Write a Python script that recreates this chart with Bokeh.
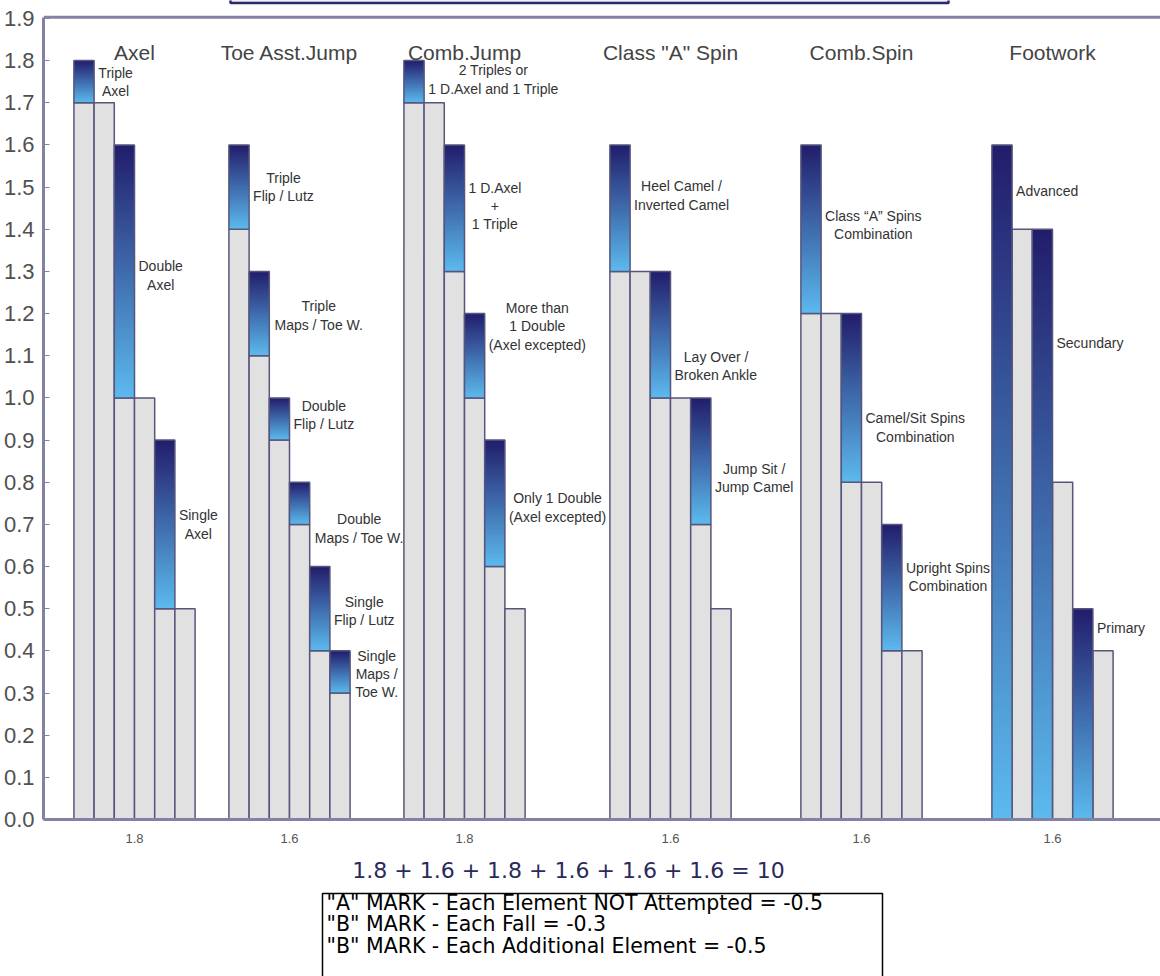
import numpy as np
from bokeh.plotting import figure
from bokeh.models import Range1d, FixedTicker, PrintfTickFormatter, Span
from bokeh.layouts import column
from bokeh.embed import file_html
from bokeh.resources import INLINE
from bokeh.core.properties import value

# ---------------- data ----------------
GROUPS = ["Axel", "Toe Asst.Jump", "Comb.Jump", 'Class "A" Spin', "Comb.Spin", "Footwork"]
GROUP_TOTALS = [1.8, 1.6, 1.8, 1.6, 1.6, 1.6]

# top of the grey (lower) part of every bar, six bars per group
AXEL_BASE = [1.7, 1.7, 1.0, 1.0, 0.5, 0.5]
TOE_BASE = [1.4, 1.1, 0.9, 0.7, 0.4, 0.3]
COMB_BASE = [1.7, 1.7, 1.3, 1.0, 0.6, 0.5]
CLASSA_BASE = [1.3, 1.3, 1.0, 1.0, 0.7, 0.5]
COMBSPIN_BASE = [1.2, 1.2, 0.8, 0.8, 0.4, 0.4]
FOOT_BASE = [0.0, 1.4, 0.0, 0.8, 0.0, 0.4]

# full height of every bar (blue part spans base..top)
AXEL_TOP = [1.8, 1.7, 1.6, 1.0, 0.9, 0.5]
TOE_TOP = [1.6, 1.3, 1.0, 0.8, 0.6, 0.4]
COMB_TOP = [1.8, 1.7, 1.6, 1.2, 0.9, 0.5]
CLASSA_TOP = [1.6, 1.3, 1.3, 1.0, 1.0, 0.5]
COMBSPIN_TOP = [1.6, 1.2, 1.2, 0.8, 0.7, 0.4]
FOOT_TOP = [1.6, 1.4, 1.4, 0.8, 0.5, 0.4]

AXEL_LABELS = ["Triple\nAxel", None, "Double\nAxel", None, "Single\nAxel", None]
TOE_LABELS = ["Triple\nFlip / Lutz", "Triple\nMaps / Toe W.", "Double\nFlip / Lutz",
              "Double\nMaps / Toe W.", "Single\nFlip / Lutz", "Single\nMaps /\nToe W."]
COMB_LABELS = ["2 Triples or\n1 D.Axel and 1 Triple", None, "1 D.Axel\n+\n1 Triple",
               "More than\n1 Double\n(Axel excepted)", "Only 1 Double\n(Axel excepted)", None]
CLASSA_LABELS = ["Heel Camel /\nInverted Camel", None, "Lay Over /\nBroken Ankle", None,
                 "Jump Sit /\nJump Camel", None]
COMBSPIN_LABELS = ["Class \u201cA\u201d Spins\nCombination", None, "Camel/Sit Spins\nCombination", None,
                   "Upright Spins\nCombination", None]
FOOT_LABELS = ["Advanced", None, "Secundary", None, "Primary", None]

NOTES = ['"A" MARK - Each Element NOT Attempted = -0.5',
         '"B" MARK - Each Fall = -0.3',
         '"B" MARK - Each Additional Element = -0.5']

BASES = [AXEL_BASE, TOE_BASE, COMB_BASE, CLASSA_BASE, COMBSPIN_BASE, FOOT_BASE]
TOPS = [AXEL_TOP, TOE_TOP, COMB_TOP, CLASSA_TOP, COMBSPIN_TOP, FOOT_TOP]
LABELS = [AXEL_LABELS, TOE_LABELS, COMB_LABELS, CLASSA_LABELS, COMBSPIN_LABELS, FOOT_LABELS]

# ---------------- layout (positions / styles) ----------------
GROUP_X = [134, 289, 464, 670, 861, 1052]   # group centres, pixel-like x units
BAR_W = 20.2
LABEL_Y = [
    [1.75, None, 1.29, None, 0.70, None],
    [1.50, 1.195, 0.96, 0.69, 0.495, 0.345],
    [1.755, None, 1.455, 1.17, 0.74, None],
    [1.48, None, 1.075, None, 0.81, None],
    [1.41, None, 0.93, None, 0.575, None],
    [1.49, None, 1.13, None, 0.455, None],
]
LABEL_GAP = 4
PX_PER_UNIT = 421.6
FRAME_PX = 819
Y_END = FRAME_PX / PX_PER_UNIT
TOP_BORDER = 1.903
TOP_COLOR = np.array([34, 29, 107])
BOTTOM_COLOR = np.array([92, 186, 238])
GREY = "#e1e1e1"
EDGE = "#56567c"
AXIS = "#8282a4"

ARIAL = {' ': 278, '(': 333, ')': 333, '+': 584, '.': 278, '/': 278, '"': 355,
         '\u201c': 333, '\u201d': 333, 'A': 667, 'B': 667, 'C': 722, 'D': 722, 'E': 667,
         'F': 611, 'H': 722, 'I': 278, 'J': 500, 'L': 556, 'M': 833, 'O': 778, 'P': 667,
         'S': 667, 'T': 611, 'U': 722, 'W': 944, 'a': 556, 'b': 556, 'c': 500, 'd': 556,
         'e': 556, 'g': 556, 'h': 556, 'i': 222, 'k': 500, 'l': 222, 'm': 833, 'n': 556,
         'o': 556, 'p': 556, 'r': 333, 's': 500, 't': 278, 'u': 556, 'v': 500, 'x': 500,
         'y': 500, 'z': 500}


def text_w(s, size):
    return max(sum(ARIAL.get(c, 556) for c in line) for line in s.split("\n")) / 1000 * size


def grad_color(t):
    c = BOTTOM_COLOR + (TOP_COLOR - BOTTOM_COLOR) * t
    return "#%02x%02x%02x" % tuple(int(round(v)) for v in c)


p = figure(width=1160, height=850, x_range=Range1d(43, 1160), y_range=Range1d(0, Y_END),
           output_backend="svg", toolbar_location=None,
           min_border_left=43, min_border_right=0, min_border_top=0, min_border_bottom=31)
p.xgrid.visible = False
p.ygrid.visible = False
p.outline_line_color = None
p.background_fill_color = "white"

# remnant of the title box above the chart frame
p.quad(left=[230], right=[948], bottom=[Y_END - 2.5 / PX_PER_UNIT], top=[Y_END + 0.05],
       fill_color="#e6e6f2", line_color="#2a2a6a", line_width=2.5)

grey_l, grey_r, grey_t = [], [], []
out_l, out_r, out_b, out_t = [], [], [], []
sl_l, sl_r, sl_b, sl_t, sl_c = [], [], [], [], []
lab_x, lab_y, lab_txt = [], [], []

for g in range(len(GROUPS)):
    for i in range(6):
        xc = GROUP_X[g] + (i - 2.5) * BAR_W
        left, right = xc - BAR_W / 2, xc + BAR_W / 2
        base, top = BASES[g][i], TOPS[g][i]
        if base > 0:
            grey_l.append(left); grey_r.append(right); grey_t.append(base)
        if top > base:
            n = max(14, int((top - base) / 0.005))
            h = (top - base) / n
            for k in range(n):
                sl_l.append(left); sl_r.append(right)
                sl_b.append(base + k * h)
                sl_t.append(min(top, base + (k + 1.6) * h))
                sl_c.append(grad_color((k + 0.5) / n))
            out_l.append(left); out_r.append(right); out_b.append(base); out_t.append(top)
        lab = LABELS[g][i]
        if lab:
            lab_x.append(right + LABEL_GAP + text_w(lab, 14) / 2)
            lab_y.append(LABEL_Y[g][i])
            lab_txt.append(lab)

p.quad(left=grey_l, right=grey_r, bottom=0, top=grey_t, fill_color=GREY,
       line_color=EDGE, line_width=1.5)
p.quad(left=sl_l, right=sl_r, bottom=sl_b, top=sl_t, fill_color=sl_c, line_color=None)
p.quad(left=out_l, right=out_r, bottom=out_b, top=out_t, fill_color=None,
       line_color=EDGE, line_width=1.5)

p.text(x=lab_x, y=lab_y, text=lab_txt, text_align="center", text_baseline="middle",
       text_font=value("Liberation Sans"), text_font_size="14px", text_line_height=1.15,
       text_color="#333333")

p.text(x=GROUP_X, y=[1.819] * len(GROUPS), text=GROUPS, text_align="center",
       text_baseline="alphabetic", text_font=value("Liberation Sans"),
       text_font_size="21px", text_color="#444444")

p.add_layout(Span(location=TOP_BORDER, dimension="width", line_color=AXIS, line_width=3))

p.xaxis.ticker = FixedTicker(ticks=GROUP_X)
p.xaxis.major_label_overrides = {gx: f"{v:.1f}" for gx, v in zip(GROUP_X, GROUP_TOTALS)}
p.xaxis.axis_line_color = AXIS
p.xaxis.axis_line_width = 3
p.xaxis.major_tick_line_color = None
p.xaxis.minor_tick_line_color = None
p.xaxis.major_label_standoff = 8
p.xaxis.major_label_text_font = "Liberation Sans"
p.xaxis.major_label_text_font_size = "13px"
p.xaxis.major_label_text_color = "#555555"

p.yaxis.ticker = FixedTicker(ticks=[round(0.1 * k, 1) for k in range(20)])
p.yaxis.formatter = PrintfTickFormatter(format="%.1f")
p.yaxis.bounds = (0, TOP_BORDER)
p.yaxis.axis_line_color = AXIS
p.yaxis.axis_line_width = 3
p.yaxis.major_tick_in = 6
p.yaxis.major_tick_out = 0
p.yaxis.major_tick_line_color = AXIS
p.yaxis.minor_tick_line_color = None
p.yaxis.major_label_standoff = 9
p.yaxis.major_label_text_font = "Liberation Sans"
p.yaxis.major_label_text_font_size = "22px"
p.yaxis.major_label_text_color = "#505050"

# ---------------- bottom panel: sum + notes ----------------
q = figure(width=1160, height=126, x_range=Range1d(43, 1160), y_range=Range1d(976, 850),
           output_backend="svg", toolbar_location=None,
           min_border_left=43, min_border_right=0, min_border_top=0, min_border_bottom=0)
q.axis.visible = False
q.xgrid.visible = False
q.ygrid.visible = False
q.outline_line_color = None

total = sum(GROUP_TOTALS)
equation = " + ".join(f"{v:.1f}" for v in GROUP_TOTALS) + f" = {total:g}"
q.text(x=[568], y=[870], text=[equation], text_align="center", text_baseline="middle",
       text_font=value("DejaVu Sans"), text_font_size="22px", text_color="#2a2a5c")

q.quad(left=[322], right=[882], top=[893], bottom=[990], fill_color="white",
       line_color="black", line_width=1.5)
q.text(x=[326] * len(NOTES), y=[902, 923.5, 945], text=NOTES, text_align="left",
       text_baseline="middle", text_font=value("DejaVu Sans"), text_font_size="20.5px",
       text_color="black")

layout = column(p, q, spacing=0)
open("out.html", "w").write(file_html(layout, INLINE))
